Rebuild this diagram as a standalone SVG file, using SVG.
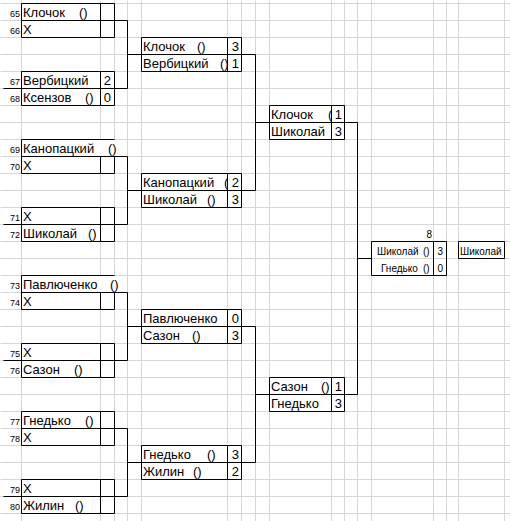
<svg xmlns="http://www.w3.org/2000/svg" width="510" height="521" viewBox="0 0 510 521">
<style>
.grid{fill:none;stroke:#d6d6d6;stroke-width:1}
.ln{fill:none;stroke:#000;stroke-width:1}
text{font-family:"Liberation Sans",Arial,sans-serif;font-size:13px;fill:#000}
.num{font-size:9px;text-anchor:end}
.sc{text-anchor:end}
.sm{font-size:10px}
</style>
<defs>
<clipPath id="cF"><rect x="141" y="0" width="86" height="521"/></clipPath>
<clipPath id="cJ"><rect x="269" y="0" width="62" height="521"/></clipPath>
</defs>
<rect width="510" height="521" fill="#fff"/>
<g id="grid" transform="translate(0.5,0.5)">
<path class="grid" d="M21 0V521M100 0V521M114 0V521M127 0V521M141 0V521M227 0V521M241 0V521M255 0V521M269 0V521M331 0V521M344 0V521M357 0V521M371 0V521M433 0V521M446 0V521M458 0V521M504 0V521
M0 3H510M0 20H510M0 37H510M0 54H510M0 71H510M0 88H510M0 105H510M0 122H510M0 139H510M0 156H510M0 173H510M0 190H510M0 207H510M0 224H510M0 241H510M0 258H510M0 275H510M0 292H510M0 309H510M0 326H510M0 343H510M0 360H510M0 377H510M0 394H510M0 411H510M0 428H510M0 445H510M0 462H510M0 479H510M0 496H510M0 513H510"/>
</g>
<!-- hide gridlines under overflowing text -->
<rect x="99" y="140" width="17" height="16" fill="#fff"/>
<rect x="99" y="276" width="17" height="16" fill="#fff"/>
<g id="connectors" transform="translate(0.5,0.5)">
<path class="ln" d="M21 20H127M3 88H127M127 20V88M127 54H255
M21 156H127M3 224H127M127 156V224M127 190H255M255 54V190M255 122H357
M21 292H127M3 360H127M127 292V360M127 326H255
M21 428H127M3 496H127M127 428V496M127 462H255M255 326V462M255 394H357
M357 122V394M357 258H371"/>
</g>
<g id="r1-65" transform="translate(0.5,0.5)"><path class="ln" d="M21 3H114V20M21 3V20M100 3V20"/></g>
<g id="r1-66" transform="translate(0.5,0.5)"><path class="ln" d="M21 20V37H114V20M100 20V37"/></g>
<g id="r1-67-68" transform="translate(0.5,0.5)"><path class="ln" d="M21 71H114V105H21ZM100 71V105"/></g>
<g id="r1-69-70" transform="translate(0.5,0.5)"><path class="ln" d="M21 139H114M21 139V173H114V156M100 156V173"/></g>
<g id="r1-71-72" transform="translate(0.5,0.5)"><path class="ln" d="M21 207H114V241H21ZM100 207V241"/></g>
<g id="r1-73-74" transform="translate(0.5,0.5)"><path class="ln" d="M21 275H114M21 275V309H114V292M100 292V309"/></g>
<g id="r1-75-76" transform="translate(0.5,0.5)"><path class="ln" d="M21 343H114V377H21ZM100 343V377"/></g>
<g id="r1-77-78" transform="translate(0.5,0.5)"><path class="ln" d="M21 411H114V445H21ZM100 411V445"/></g>
<g id="r1-79-80" transform="translate(0.5,0.5)"><path class="ln" d="M21 479H114V513H21ZM100 479V513"/></g>
<g id="r2-a" transform="translate(0.5,0.5)"><path class="ln" d="M141 37H241V71H141ZM227 37V71"/></g>
<g id="r2-b" transform="translate(0.5,0.5)"><path class="ln" d="M141 173H241V207H141ZM227 173V207"/></g>
<g id="r2-c" transform="translate(0.5,0.5)"><path class="ln" d="M141 309H241V343H141ZM227 309V343"/></g>
<g id="r2-d" transform="translate(0.5,0.5)"><path class="ln" d="M141 445H241V479H141ZM227 445V479"/></g>
<g id="r3-a" transform="translate(0.5,0.5)"><path class="ln" d="M269 105H344V139H269ZM331 105V139"/></g>
<g id="r3-b" transform="translate(0.5,0.5)"><path class="ln" d="M269 377H344V411H269ZM331 377V411"/></g>
<g id="final" transform="translate(0.5,0.5)"><path class="ln" d="M371 241H446V275H371ZM433 241V275"/></g>
<g id="champion" transform="translate(0.5,0.5)"><path class="ln" d="M458 241H504V258H458Z"/></g>
<g id="texts-r1">
<text class="num" x="20" y="17">65</text><text x="23" y="17">Клочок <tspan x="79">()</tspan></text>
<text class="num" x="20" y="34">66</text><text x="23" y="34">X</text>
<text class="num" x="20" y="85">67</text><text x="23" y="85">Вербицкий</text><text class="sc" x="111" y="85">2</text>
<text class="num" x="20" y="102">68</text><text x="23" y="102">Ксензов <tspan x="85">()</tspan></text><text class="sc" x="111" y="102">0</text>
<text class="num" x="20" y="153">69</text><text x="23" y="153">Канопацкий <tspan x="108">()</tspan></text>
<text class="num" x="20" y="170">70</text><text x="23" y="170">X</text>
<text class="num" x="20" y="221">71</text><text x="23" y="221">X</text>
<text class="num" x="20" y="238">72</text><text x="23" y="238">Шиколай <tspan x="88">()</tspan></text>
<text class="num" x="20" y="289">73</text><text x="23" y="289">Павлюченко <tspan x="110">()</tspan></text>
<text class="num" x="20" y="306">74</text><text x="23" y="306">X</text>
<text class="num" x="20" y="357">75</text><text x="23" y="357">X</text>
<text class="num" x="20" y="374">76</text><text x="23" y="374">Сазон <tspan x="74">()</tspan></text>
<text class="num" x="20" y="425">77</text><text x="23" y="425">Гнедько <tspan x="85">()</tspan></text>
<text class="num" x="20" y="442">78</text><text x="23" y="442">X</text>
<text class="num" x="20" y="493">79</text><text x="23" y="493">X</text>
<text class="num" x="20" y="510">80</text><text x="23" y="510">Жилин <tspan x="75">()</tspan></text>
</g>
<g id="texts-r2">
<g clip-path="url(#cF)">
<text x="143" y="51">Клочок <tspan x="197">()</tspan></text>
<text x="143" y="68">Вербицкий <tspan x="220">()</tspan></text>
<text x="143" y="187">Канопацкий <tspan x="224">(</tspan></text>
<text x="143" y="204">Шиколай <tspan x="207">()</tspan></text>
<text x="143" y="323">Павлюченко</text>
<text x="143" y="340">Сазон <tspan x="192">()</tspan></text>
<text x="143" y="459">Гнедько <tspan x="207">()</tspan></text>
<text x="143" y="476">Жилин <tspan x="193">()</tspan></text>
</g>
<text class="sc" x="239" y="51">3</text><text class="sc" x="239" y="68">1</text>
<text class="sc" x="239" y="187">2</text><text class="sc" x="239" y="204">3</text>
<text class="sc" x="239" y="323">0</text><text class="sc" x="239" y="340">3</text>
<text class="sc" x="239" y="459">3</text><text class="sc" x="239" y="476">2</text>
</g>
<g id="texts-r3">
<g clip-path="url(#cJ)">
<text x="271" y="119">Клочок <tspan x="328">(</tspan></text>
<text x="271" y="136">Шиколай</text>
<text x="271" y="391">Сазон <tspan x="321">()</tspan></text>
<text x="271" y="408">Гнедько</text>
</g>
<text class="sc" x="342" y="119">1</text><text class="sc" x="342" y="136">3</text>
<text class="sc" x="342" y="391">1</text><text class="sc" x="342" y="408">3</text>
</g>
<g id="texts-final">
<text class="sm sc" x="432" y="238">8</text>
<text class="sm" x="377" y="255">Шиколай <tspan x="423">()</tspan></text>
<text class="sm" x="381" y="272">Гнедько <tspan x="423">()</tspan></text>
<text class="sm sc" x="443" y="255">3</text>
<text class="sm sc" x="443" y="272">0</text>
<text class="sm" x="460" y="255">Шиколай</text>
</g>
</svg>
